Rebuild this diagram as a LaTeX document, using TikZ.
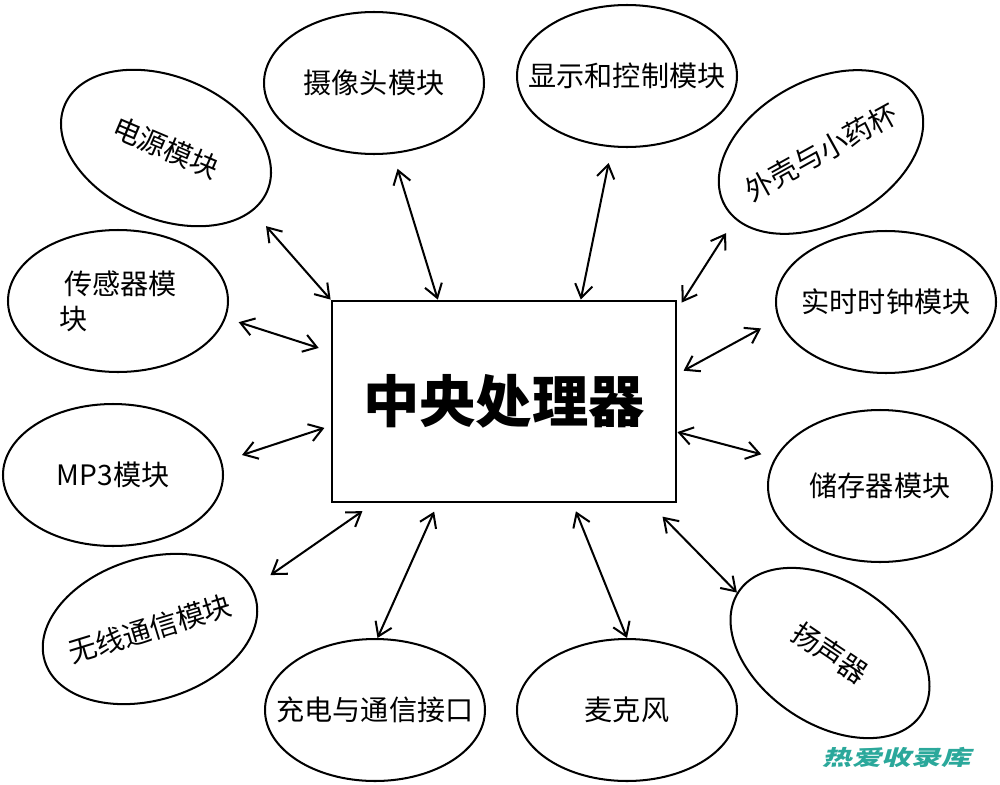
\documentclass[tikz,border=0pt]{standalone}
\usepackage{fontspec}
\setmainfont{Noto Sans CJK SC}
\usepackage{tikz}
\usetikzlibrary{arrows.meta}
\usetikzlibrary{shapes.geometric}
\tikzset{>={Straight Barb[length=7.5pt,width=10pt]}}
\definecolor{watermark}{HTML}{2BA89B}
\tikzset{
  module/.style={ellipse, draw, line width=1.15pt, minimum width=4.4cm, minimum height=2.84cm,
    inner xsep=-1cm, inner ysep=0pt, font=\fontsize{16pt}{20pt}\selectfont},
  link/.style={<->, line width=1.15pt}
}

\begin{document}
\begin{tikzpicture}
            \useasboundingbox (0,0) rectangle (20,-15.7);
            \node[draw, line width=1.6pt, minimum width=6.88cm, minimum height=4.02cm, inner sep=0pt,
                  font=\bfseries\fontsize{32pt}{38pt}\selectfont] (cpu) at (10.08,-8.03) {中央处理器};
            \node[module, rotate=-23] (pwr) at (3.32,-2.96) {电源模块};
            \node[module] (cam) at (7.48,-1.66) {摄像头模块};
            \node[module] (disp) at (12.54,-1.52) {显示和控制模块};
            \node[module, rotate=29] (case) at (16.42,-3.04) {外壳与小药杯};
            \node[module] (clock) at (17.72,-6.04) {实时时钟模块};
            \node[module, minimum width=4.48cm, minimum height=3.04cm] (store) at (17.60,-9.72) {储存器模块};
            \node[module, rotate=-34] (spk) at (16.60,-13.06) {扬声器};
            \node[module] (mic) at (12.54,-14.20) {麦克风};
            \node[module] (chg) at (7.50,-14.20) {充电与通信接口};
            \node[module, rotate=17] (wl) at (3.00,-12.58) {无线通信模块};
            \node[module] (mp3) at (2.26,-9.50) {MP3模块};
            \node[module, align=left] (sens) at (2.36,-6.02) {\hspace{3pt}传感器模\\块};
            \draw[link, shorten >=0.40cm] (cpu.north west) -- (pwr.-13);
            \draw[link, shorten >=0.31cm] (cpu.123) -- (cam.-75);
            \draw[link, shorten >=0.32cm] (cpu.53) -- (disp.-102);
            \draw[link, shorten <=0.16cm, shorten >=0.33cm] (cpu.28) -- (case.-171);
            \draw[link, shorten <=0.14cm, shorten >=0.39cm] (cpu.9) -- (clock.-171);
            \draw[link, shorten >=0.28cm] (cpu.-10) -- (store.165);
            \draw[link, shorten <=0.37cm] (cpu.-35) -- (spk.181);
            \draw[link, shorten <=0.17cm] (cpu.-56) -- (mic.90);
            \draw[link, shorten <=0.18cm] (cpu.-123) -- (chg.88);
            \draw[link, shorten <=0.27cm, shorten >=0.44cm] (cpu.-142) -- (wl.5);
            \draw[link, shorten <=0.13cm, shorten >=0.42cm] (cpu.-172) -- (mp3.7);
            \draw[link, shorten <=0.25cm, shorten >=0.27cm] (cpu.164) -- (sens.-9);
            \node[text=watermark, font=\bfseries\fontsize{12pt}{14pt}\selectfont, xscale=1.4, xslant=0.2]
                (mark) at (17.98,-15.14) {热爱收录库};
        \end{tikzpicture}
\end{document}
